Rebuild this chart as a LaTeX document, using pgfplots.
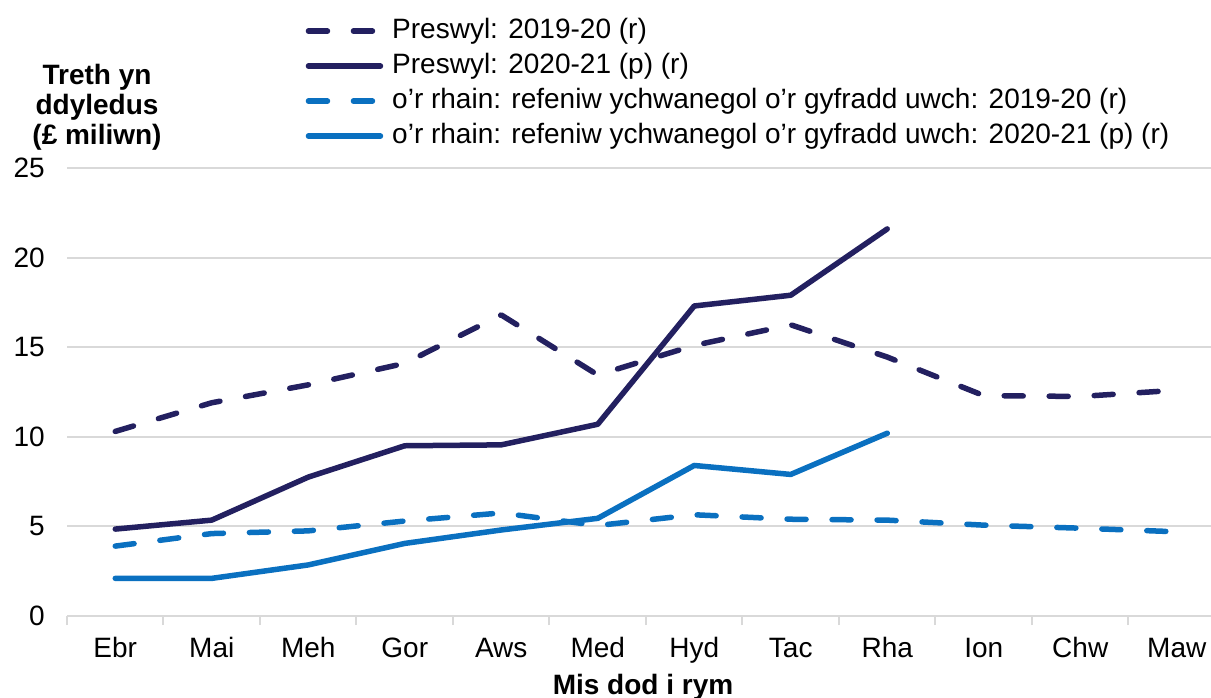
\documentclass[border=0pt]{standalone}
\usepackage{fontspec}
\setmainfont{Liberation Sans}
\usepackage{pgfplots}
\pgfplotsset{compat=1.18}
\definecolor{navy}{RGB}{35,32,96}
\definecolor{lblue}{RGB}{10,112,192}
\definecolor{gridgray}{RGB}{217,217,217}
\begin{document}
\begin{tikzpicture}[x=1pt,y=1pt]
\useasboundingbox (0,0) rectangle (1211,697);
\begin{axis}[
  at={(67pt,81pt)}, anchor=south west,
  scale only axis, width=1144pt, height=448pt,
  xmin=-0.5, xmax=11.355, ymin=0, ymax=25,
  ytick={0,5,...,25},
  xtick={0,...,11},
  xticklabels={Ebr,Mai,Meh,Gor,Aws,Med,Hyd,Tac,Rha,Ion,Chw,Maw},
  minor xtick={-0.5,0.5,...,11.5},
  separate axis lines,
  axis x line*=bottom, axis y line*=left,
  x axis line style={draw=gridgray, line width=2pt, -},
  y axis line style={draw=none},
  ymajorgrids, major grid style={gridgray, line width=2pt},
  major tick length=0pt, minor tick length=9pt,
  tick align=outside,
  minor tick style={gridgray, line width=2pt},
  /pgf/number format/assume math mode=true,
  tick label style={font=\fontsize{28}{32}\selectfont},
  yticklabel style={anchor=east, inner sep=0pt, xshift=-22pt},
  xticklabel style={anchor=north, inner sep=0pt, yshift=-21pt, text height=20pt, text depth=6pt},
  xlabel={\bfseries Mis dod i rym},
  xlabel style={at={(axis description cs:0.5,0)}, anchor=base, yshift=-78pt, xshift=4pt, font=\fontsize{28}{32}\selectfont},
  legend style={at={(axis description cs:0.2085,1.335)}, anchor=north west, draw=none, fill=none,
    inner sep=0pt, row sep=9pt, column sep=9pt, font=\fontsize{28}{32}\selectfont,
    nodes={inner sep=0pt, text height=20pt, text depth=6pt}},
  legend cell align=left,
  legend image code/.code={\draw[#1] (0pt,0pt) -- (72pt,0pt);},
]
\addplot[navy, line width=5.5pt, dash pattern=on 19pt off 26pt, line cap=round, line join=round]
  coordinates {(0,10.3)(1,11.9)(2,12.9)(3,14.1)(4,16.8)(5,13.45)(6,15.1)(7,16.25)(8,14.45)(9,12.3)(10,12.25)(11,12.6)};
\addlegendentry{Preswyl: 2019-20 (r)}
\addplot[navy, line width=5.5pt, line cap=round, line join=round]
  coordinates {(0,4.85)(1,5.35)(2,7.75)(3,9.5)(4,9.55)(5,10.7)(6,17.3)(7,17.9)(8,21.6)};
\addlegendentry{Preswyl: 2020-21 (p) (r)}
\addplot[lblue, line width=5.5pt, dash pattern=on 19pt off 26pt, line cap=round, line join=round]
  coordinates {(0,3.9)(1,4.6)(2,4.75)(3,5.3)(4,5.75)(5,5.05)(6,5.65)(7,5.4)(8,5.35)(9,5.07)(10,4.9)(11,4.7)};
\addlegendentry{o’r rhain: refeniw ychwanegol o’r gyfradd uwch: 2019-20 (r)}
\addplot[lblue, line width=5.5pt, line cap=round, line join=round]
  coordinates {(0,2.1)(1,2.1)(2,2.85)(3,4.05)(4,4.8)(5,5.45)(6,8.4)(7,7.9)(8,10.2)};
\addlegendentry{o’r rhain: refeniw ychwanegol o’r gyfradd uwch: 2020-21 (p) (r)}
\end{axis}
\node[anchor=north, inner sep=0pt, align=center, font=\bfseries\fontsize{28}{30}\selectfont] at (97,633) {Treth yn\\ddyledus\\(£ miliwn)};
\end{tikzpicture}
\end{document}
